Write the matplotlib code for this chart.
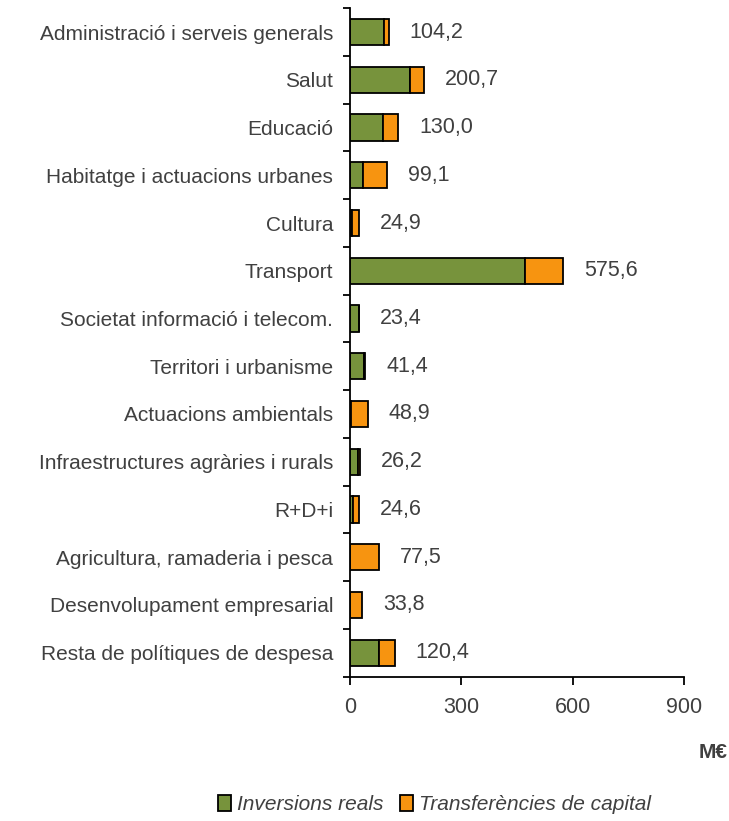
import matplotlib.pyplot as plt
import numpy as np

plt.rcParams['font.family'] = ['Liberation Sans', 'DejaVu Sans']

categories = ["Administració i serveis generals", "Salut", "Educació",
              "Habitatge i actuacions urbanes", "Cultura", "Transport",
              "Societat informació i telecom.", "Territori i urbanisme",
              "Actuacions ambientals", "Infraestructures agràries i rurals",
              "R+D+i", "Agricultura, ramaderia i pesca",
              "Desenvolupament empresarial", "Resta de polítiques de despesa"]
inversions = [92.0, 162.0, 90.0, 36.0, 5.0, 472.0, 23.4, 39.0, 3.0, 22.0, 9.0, 0.5, 0.0, 79.0]
transferencies = [12.2, 38.7, 40.0, 63.1, 19.9, 103.6, 0.0, 2.4, 45.9, 4.2, 15.6, 77.0, 33.8, 41.4]
totals = [104.2, 200.7, 130.0, 99.1, 24.9, 575.6, 23.4, 41.4, 48.9, 26.2, 24.6, 77.5, 33.8, 120.4]
xticks = [0, 300, 600, 900]

green = '#77933C'
orange = '#F79410'
txt = '#404040'

fig = plt.figure(figsize=(7.29, 8.21), dpi=100)
ax = fig.add_axes([0.48, 0.176, 0.458, 0.814])

y = np.arange(len(categories))
ax.barh(y, inversions, height=0.55, color=green, edgecolor='black', linewidth=1.3,
        label='Inversions reals')
ax.barh(y, transferencies, left=inversions, height=0.55, color=orange, edgecolor='black',
        linewidth=1.3, label='Transferències de capital')

for yi, t in zip(y, totals):
    ax.annotate(f"{t:.1f}".replace('.', ','), (t, yi), xytext=(15, 0),
                textcoords='offset points', va='center', ha='left',
                fontsize=15.5, color=txt)

ax.set_xlim(0, 900)
ax.set_ylim(len(categories) - 0.5, -0.5)
ax.set_xticks(xticks)
ax.set_xticklabels([str(v) for v in xticks], fontsize=15.5, color=txt)
ax.set_yticks(y)
ax.set_yticklabels(categories, fontsize=15, color=txt)
ax.set_yticks(np.arange(len(categories) + 1) - 0.5, minor=True)
ax.tick_params(axis='y', which='major', length=0, pad=12)
ax.tick_params(axis='y', which='minor', length=5, width=1.3, direction='out')
ax.tick_params(axis='x', length=6, width=1.3, direction='out', pad=9)
for s in ['top', 'right']:
    ax.spines[s].set_visible(False)
for s in ['left', 'bottom']:
    ax.spines[s].set_linewidth(1.3)

fig.text(0.998, 0.084, "M€", ha='right', va='center', fontsize=15,
         fontweight='bold', color=txt)

leg = fig.legend(loc='center', bbox_to_anchor=(0.596, 0.02), ncol=2, frameon=False,
                 prop={'size': 15, 'style': 'italic'}, handlelength=0.6,
                 handleheight=0.8, handletextpad=0.3, columnspacing=0.8)
for t in leg.get_texts():
    t.set_color(txt)

fig.savefig('out.png', dpi=100)
